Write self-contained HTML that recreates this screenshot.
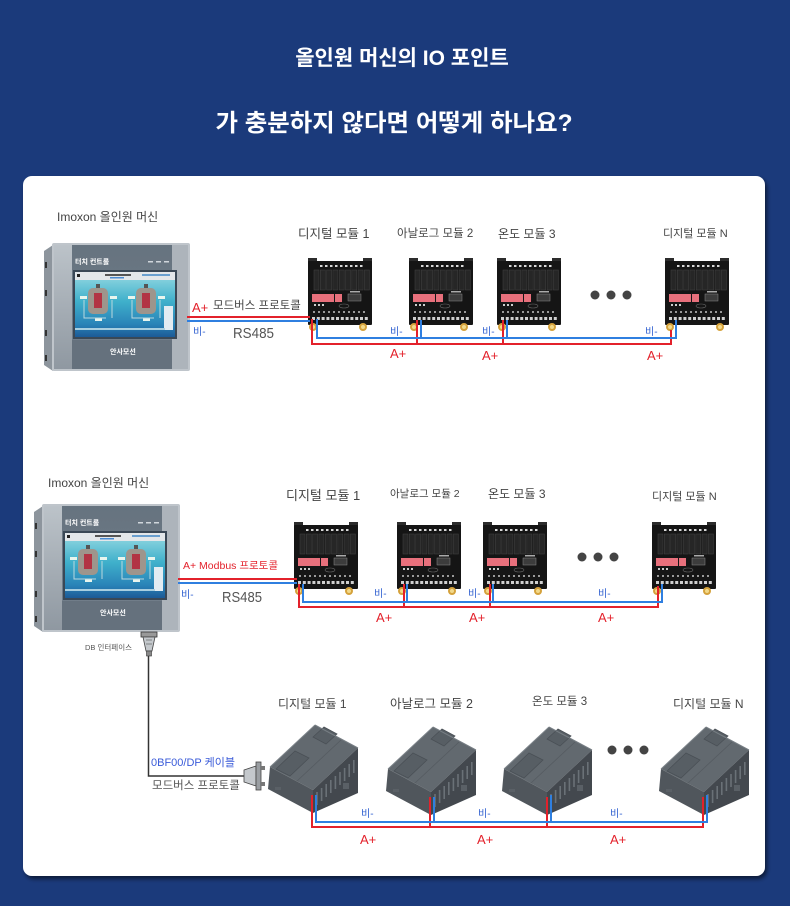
<!DOCTYPE html>
<html><head><meta charset="utf-8">
<style>
html,body{margin:0;padding:0;background:#1b3a7b;}
body{width:790px;height:906px;overflow:hidden;}
svg{display:block;}
text{font-family:"Liberation Sans","Noto Sans CJK KR",sans-serif;}
</style></head>
<body>
<svg width="790" height="906" viewBox="0 0 790 906" xmlns="http://www.w3.org/2000/svg">
<defs>
  <filter id="sh" x="-5%" y="-5%" width="110%" height="110%">
    <feDropShadow dx="2" dy="3" stdDeviation="2" flood-color="#000" flood-opacity="0.55"/>
  </filter>
  <linearGradient id="scr" x1="0" y1="0" x2="0" y2="1">
    <stop offset="0" stop-color="#9adbe3"/>
    <stop offset="0.45" stop-color="#3fb0cb"/>
    <stop offset="0.8" stop-color="#2a84b8"/>
    <stop offset="1" stop-color="#1c5a96"/>
  </linearGradient>
  <linearGradient id="lstrip" x1="0" y1="0" x2="0" y2="1">
    <stop offset="0" stop-color="#bcc3c9"/>
    <stop offset="1" stop-color="#8f98a1"/>
  </linearGradient>
  <linearGradient id="bez" x1="0" y1="0" x2="0" y2="1">
    <stop offset="0" stop-color="#66737f"/>
    <stop offset="1" stop-color="#74808c"/>
  </linearGradient>

  <g id="hmi">
    <polygon points="44,251 53,245 53,371 44,365" fill="#8d959d"/>
    <rect x="45" y="262" width="2" height="6" fill="#333"/>
    <rect x="45" y="290" width="2" height="6" fill="#333"/>
    <rect x="45" y="330" width="2" height="6" fill="#333"/>
    <rect x="45" y="355" width="2" height="6" fill="#333"/>
    <rect x="52" y="243" width="138" height="128" rx="2" fill="#bfc5cb"/>
    <rect x="54" y="245" width="134" height="124" fill="url(#bez)"/>
    <rect x="54" y="245" width="18" height="124" fill="url(#lstrip)"/>
    <rect x="172" y="245" width="16" height="124" fill="#adb4bb"/>
    <rect x="72" y="340" width="100" height="29" fill="#65717d"/>
    <text x="75" y="264" font-size="7" fill="#fff" font-weight="bold">터치 컨트롤</text>
    <rect x="148" y="261" width="5" height="1.5" fill="#d0d6dc"/>
    <rect x="156" y="261" width="5" height="1.5" fill="#d0d6dc"/>
    <rect x="164" y="261" width="5" height="1.5" fill="#d0d6dc"/>
    <rect x="73" y="270" width="104" height="69" fill="#3a4856"/>
    <rect x="75" y="272" width="100" height="65" fill="url(#scr)"/>
    <rect x="75" y="272" width="100" height="8" fill="#e3e7ea"/>
    <rect x="105" y="274" width="26" height="2" fill="#555"/>
    <rect x="110" y="277" width="14" height="1.5" fill="#4a8ad0"/>
    <rect x="142" y="274" width="28" height="2" fill="#6aa0d0"/>
    <rect x="77" y="274" width="3" height="3" fill="#222"/>
    <rect x="88" y="288" width="20" height="26" rx="5" fill="#9e958c"/>
    <rect x="94" y="293" width="8" height="15" fill="#b23444"/>
    <rect x="96" y="284" width="4" height="4" fill="#555"/>
    <rect x="136" y="288" width="20" height="26" rx="5" fill="#9e958c"/>
    <rect x="142" y="293" width="8" height="15" fill="#b23444"/>
    <rect x="144" y="284" width="4" height="4" fill="#555"/>
    <rect x="80" y="296" width="7" height="3" fill="#e8f5ee"/>
    <rect x="110" y="296" width="7" height="3" fill="#e8f5ee"/>
    <rect x="128" y="296" width="7" height="3" fill="#e8f5ee"/>
    <rect x="158" y="296" width="7" height="3" fill="#e8f5ee"/>
    <rect x="95" y="318" width="7" height="3" fill="#e8f5ee"/>
    <rect x="143" y="318" width="7" height="3" fill="#e8f5ee"/>
    <path d="M84 300 v18 h22 M112 300 v18 M132 300 v18 h22 M160 300 v18" stroke="#b9d8de" stroke-width="1" fill="none"/>
    <rect x="164" y="306" width="9" height="24" fill="#e2ecf2"/>
    <rect x="75" y="328" width="90" height="2" fill="#a8cfe0"/>
    <text x="110" y="354" font-size="7" fill="#fff" font-weight="bold">안사모선</text>
  </g>

  <g id="din">
    <rect x="0" y="0" width="9" height="7" fill="#2c2c2c"/>
    <rect x="55" y="0" width="9" height="7" fill="#2c2c2c"/>
    <rect x="0" y="3" width="64" height="64" rx="1" fill="#151515"/>
    <g fill="#d8d8d8">
      <rect x="12" y="7" width="2.5" height="2"/><rect x="17" y="7" width="2.5" height="2"/><rect x="22" y="7" width="2.5" height="2"/>
      <rect x="27" y="7" width="2.5" height="2"/><rect x="32" y="7" width="2.5" height="2"/><rect x="37" y="7" width="2.5" height="2"/>
      <rect x="42" y="7" width="2.5" height="2"/><rect x="47" y="7" width="2.5" height="2"/><rect x="52" y="7" width="2.5" height="2"/>
    </g>
    <g fill="#262626" stroke="#3e3e3e" stroke-width="0.6">
      <rect x="6" y="12" width="5" height="20"/><rect x="12.3" y="12" width="5" height="20"/><rect x="18.6" y="12" width="5" height="20"/>
      <rect x="24.9" y="12" width="5" height="20"/><rect x="31.2" y="12" width="5" height="20"/><rect x="37.5" y="12" width="5" height="20"/>
      <rect x="43.8" y="12" width="5" height="20"/><rect x="50.1" y="12" width="5" height="20"/><rect x="56.4" y="12" width="5" height="20"/>
    </g>
    <rect x="4" y="36" width="22" height="8" fill="#e8707c"/>
    <rect x="27" y="36" width="7" height="8" fill="#e8707c"/>
    <rect x="40" y="36" width="13" height="7" fill="#3c3c3c" stroke="#888" stroke-width="0.5"/>
    <rect x="42" y="33" width="10" height="1.5" fill="#aaa"/>
    <ellipse cx="36" cy="48" rx="5" ry="2" fill="none" stroke="#666" stroke-width="0.6"/>
    <g fill="#ccc">
      <rect x="6" y="46" width="2" height="2"/><rect x="10" y="46" width="2" height="2"/><rect x="14" y="46" width="2" height="2"/>
    </g>
    <g fill="#9a9a9a">
      <rect x="5" y="53" width="2" height="2"/><rect x="10" y="53" width="2" height="2"/><rect x="15" y="53" width="2" height="2"/>
      <rect x="20" y="53" width="2" height="2"/><rect x="25" y="53" width="2" height="2"/><rect x="30" y="53" width="2" height="2"/>
      <rect x="35" y="53" width="2" height="2"/><rect x="40" y="53" width="2" height="2"/><rect x="45" y="53" width="2" height="2"/>
      <rect x="50" y="53" width="2" height="2"/><rect x="55" y="53" width="2" height="2"/>
    </g>
    <g fill="#d0d0d0">
      <rect x="4" y="59" width="3" height="3"/><rect x="8.8" y="59" width="3" height="3"/><rect x="13.6" y="59" width="3" height="3"/>
      <rect x="18.4" y="59" width="3" height="3"/><rect x="23.2" y="59" width="3" height="3"/><rect x="28" y="59" width="3" height="3"/>
      <rect x="32.8" y="59" width="3" height="3"/><rect x="37.6" y="59" width="3" height="3"/><rect x="42.4" y="59" width="3" height="3"/>
      <rect x="47.2" y="59" width="3" height="3"/><rect x="52" y="59" width="3" height="3"/><rect x="56.8" y="59" width="3" height="3"/>
    </g>
    <circle cx="5" cy="69" r="4" fill="#d5a23c"/>
    <circle cx="5" cy="69" r="2" fill="#f2d98a"/>
    <circle cx="55" cy="69" r="4" fill="#d5a23c"/>
    <circle cx="55" cy="69" r="2" fill="#f2d98a"/>
  </g>

  <g id="plc">
    <polygon points="3,42 48,0 91,23 46,65" fill="#62696f"/>
    <polygon points="3,42 46,65 46,88 1,64" fill="#50565c"/>
    <polygon points="46,65 91,23 91,68 46,88" fill="#43484e"/>
    <polygon points="9,44 28,26 42,33 23,51" fill="#575e64" stroke="#4a5056" stroke-width="0.8"/>
    <polygon points="46,12 57,2 70,9 59,19" fill="#575e64" stroke="#4a5056" stroke-width="0.8"/>
    <line x1="3" y1="42" x2="48" y2="0" stroke="#7c8389" stroke-width="1"/>
    <line x1="48" y1="0" x2="91" y2="23" stroke="#767d83" stroke-width="1"/>
    <line x1="30" y1="56" x2="74" y2="15" stroke="#555b61" stroke-width="0.8"/>
    <g stroke="#6a7177" stroke-width="1.6">
      <line x1="50" y1="67" x2="50" y2="80"/><line x1="54.6" y1="63" x2="54.6" y2="76"/><line x1="59.2" y1="59" x2="59.2" y2="72"/>
      <line x1="63.8" y1="55" x2="63.8" y2="68"/><line x1="68.4" y1="51" x2="68.4" y2="64"/><line x1="73" y1="47" x2="73" y2="60"/>
      <line x1="77.6" y1="43" x2="77.6" y2="56"/><line x1="82.2" y1="39" x2="82.2" y2="52"/><line x1="86.8" y1="35" x2="86.8" y2="48"/>
    </g>
    <rect x="76" y="58" width="6" height="6" fill="#5a6066"/>
    <rect x="8" y="62" width="6" height="3" fill="#5a6066"/>
  </g>
</defs>

<!-- titles -->
<text x="402" y="65" font-size="21" font-weight="bold" fill="#fff" text-anchor="middle">올인원 머신의 IO 포인트</text>
<text x="394" y="131" font-size="24" font-weight="bold" fill="#fff" text-anchor="middle" textLength="357" lengthAdjust="spacingAndGlyphs">가 충분하지 않다면 어떻게 하나요?</text>

<!-- card -->
<rect x="23" y="176" width="742" height="700" rx="9" fill="#fff" filter="url(#sh)"/>

<!-- ===== Section 1 ===== -->
<text x="57" y="221" font-size="12" fill="#444">Imoxon 올인원 머신</text>
<use href="#hmi"/>

<text x="298" y="238" font-size="12.5" fill="#444">디지털 모듈 1</text>
<text x="397" y="237" font-size="11.5" fill="#444">아날로그 모듈 2</text>
<text x="498" y="238" font-size="12" fill="#444">온도 모듈 3</text>
<text x="663" y="237" font-size="11" fill="#444">디지털 모듈 N</text>

<use href="#din" x="308" y="258"/>
<use href="#din" x="409" y="258"/>
<use href="#din" x="497" y="258"/>
<use href="#din" x="665" y="258"/>

<circle cx="595" cy="295" r="4.5" fill="#444"/>
<circle cx="611" cy="295" r="4.5" fill="#444"/>
<circle cx="627" cy="295" r="4.5" fill="#444"/>

<g fill="none" stroke-width="2">
  <polyline points="187,317 310,317" stroke="#e3212b"/>
  <polyline points="187,321 310,321" stroke="#2f7fe0"/>
  <path d="M312,319 V344 H671 V330 M417,344 V320 M503,344 V320" stroke="#e3212b"/>
  <path d="M317,319 V338 H676 V320 M421,338 V320 M507,338 V320" stroke="#2f7fe0"/>
</g>

<text x="192" y="312" font-size="13" fill="#e3212b">A+</text>
<text x="213" y="309" font-size="11.5" fill="#444">모드버스 프로토콜</text>
<text x="193" y="335" font-size="10" fill="#3060d0">비-</text>
<text x="233" y="338" font-size="15" fill="#555" textLength="41" lengthAdjust="spacingAndGlyphs">RS485</text>
<text x="390" y="335" font-size="10" fill="#3060d0">비-</text>
<text x="482" y="335" font-size="10" fill="#3060d0">비-</text>
<text x="645" y="335" font-size="10" fill="#3060d0">비-</text>
<text x="390" y="358" font-size="13" fill="#e3212b">A+</text>
<text x="482" y="360" font-size="13" fill="#e3212b">A+</text>
<text x="647" y="360" font-size="13" fill="#e3212b">A+</text>

<!-- ===== Section 2 ===== -->
<text x="48" y="487" font-size="12" fill="#444">Imoxon 올인원 머신</text>
<use href="#hmi" transform="translate(-10,261)"/>

<text x="286" y="500" font-size="13" fill="#444">디지털 모듈 1</text>
<text x="390" y="497" font-size="10.5" fill="#444">아날로그 모듈 2</text>
<text x="488" y="498" font-size="12" fill="#444">온도 모듈 3</text>
<text x="652" y="500" font-size="11" fill="#444">디지털 모듈 N</text>

<use href="#din" x="294" y="522"/>
<use href="#din" x="397" y="522"/>
<use href="#din" x="483" y="522"/>
<use href="#din" x="652" y="522"/>

<circle cx="582" cy="557" r="4.5" fill="#444"/>
<circle cx="598" cy="557" r="4.5" fill="#444"/>
<circle cx="614" cy="557" r="4.5" fill="#444"/>

<g fill="none" stroke-width="2">
  <polyline points="178,579 297,579" stroke="#e3212b"/>
  <polyline points="178,583 297,583" stroke="#2f7fe0"/>
  <path d="M299,584 V607 H658 V586 M404,607 V584 M490,607 V584" stroke="#e3212b"/>
  <path d="M303,584 V602 H662 V584 M407,602 V584 M493,602 V584" stroke="#2f7fe0"/>
</g>

<text x="183" y="569" font-size="10" fill="#e3212b" textLength="95" lengthAdjust="spacingAndGlyphs">A+ Modbus 프로토콜</text>
<text x="181" y="598" font-size="10" fill="#3060d0">비-</text>
<text x="222" y="602" font-size="15" fill="#555" textLength="40" lengthAdjust="spacingAndGlyphs">RS485</text>
<text x="374" y="597" font-size="10" fill="#3060d0">비-</text>
<text x="468" y="597" font-size="10" fill="#3060d0">비-</text>
<text x="598" y="597" font-size="10" fill="#3060d0">비-</text>
<text x="376" y="622" font-size="13" fill="#e3212b">A+</text>
<text x="469" y="622" font-size="13" fill="#e3212b">A+</text>
<text x="598" y="622" font-size="13" fill="#e3212b">A+</text>

<!-- DB connector -->
<rect x="141" y="632" width="16" height="5" fill="#999" stroke="#333" stroke-width="0.8"/>
<polygon points="143,637 155,637 152,651 146,651" fill="#c4c8cc" stroke="#444" stroke-width="0.8"/>
<line x1="146" y1="640" x2="152" y2="640" stroke="#555" stroke-width="0.6"/>
<line x1="146" y1="644" x2="152" y2="644" stroke="#555" stroke-width="0.6"/>
<rect x="146.5" y="651" width="5" height="5" fill="#888" stroke="#333" stroke-width="0.6"/>
<text x="85" y="650" font-size="7.5" fill="#555">DB 인터페이스</text>

<polyline points="148.5,656 148.5,776 245,776" fill="none" stroke="#333" stroke-width="1.5"/>

<!-- side connector -->
<polygon points="244,770 256,766 256,786 244,782" fill="#c4c8cc" stroke="#444" stroke-width="0.8"/>
<rect x="256" y="762" width="5" height="28" fill="#9a9ea2" stroke="#444" stroke-width="0.8"/>
<rect x="261" y="766" width="4" height="4" fill="#777"/>
<rect x="261" y="782" width="4" height="4" fill="#777"/>

<text x="151" y="766" font-size="11" fill="#3a5bd9">0BF00/DP 케이블</text>
<text x="152" y="789" font-size="11.5" fill="#555">모드버스 프로토콜</text>

<!-- ===== Section 3 ===== -->
<text x="278" y="708" font-size="12" fill="#444">디지털 모듈 1</text>
<text x="390" y="708" font-size="12.5" fill="#444">아날로그 모듈 2</text>
<text x="532" y="705" font-size="11.5" fill="#444">온도 모듈 3</text>
<text x="673" y="708" font-size="12" fill="#444">디지털 모듈 N</text>

<use href="#plc" x="267" y="725"/>
<use href="#plc" x="385" y="727"/>
<use href="#plc" x="501" y="727"/>
<use href="#plc" x="658" y="727"/>

<circle cx="612" cy="750" r="4.5" fill="#444"/>
<circle cx="628" cy="750" r="4.5" fill="#444"/>
<circle cx="644" cy="750" r="4.5" fill="#444"/>

<g fill="none" stroke-width="2">
  <path d="M312,795 V827 H703 V797 M430,827 V797 M547,827 V797" stroke="#e3212b"/>
  <path d="M316,795 V822 H707 V795 M434,822 V797 M551,822 V795" stroke="#2f7fe0"/>
</g>

<text x="361" y="817" font-size="10" fill="#3060d0">비-</text>
<text x="478" y="817" font-size="10" fill="#3060d0">비-</text>
<text x="610" y="817" font-size="10" fill="#3060d0">비-</text>
<text x="360" y="844" font-size="13" fill="#e3212b">A+</text>
<text x="477" y="844" font-size="13" fill="#e3212b">A+</text>
<text x="610" y="844" font-size="13" fill="#e3212b">A+</text>
</svg>
</body></html>
